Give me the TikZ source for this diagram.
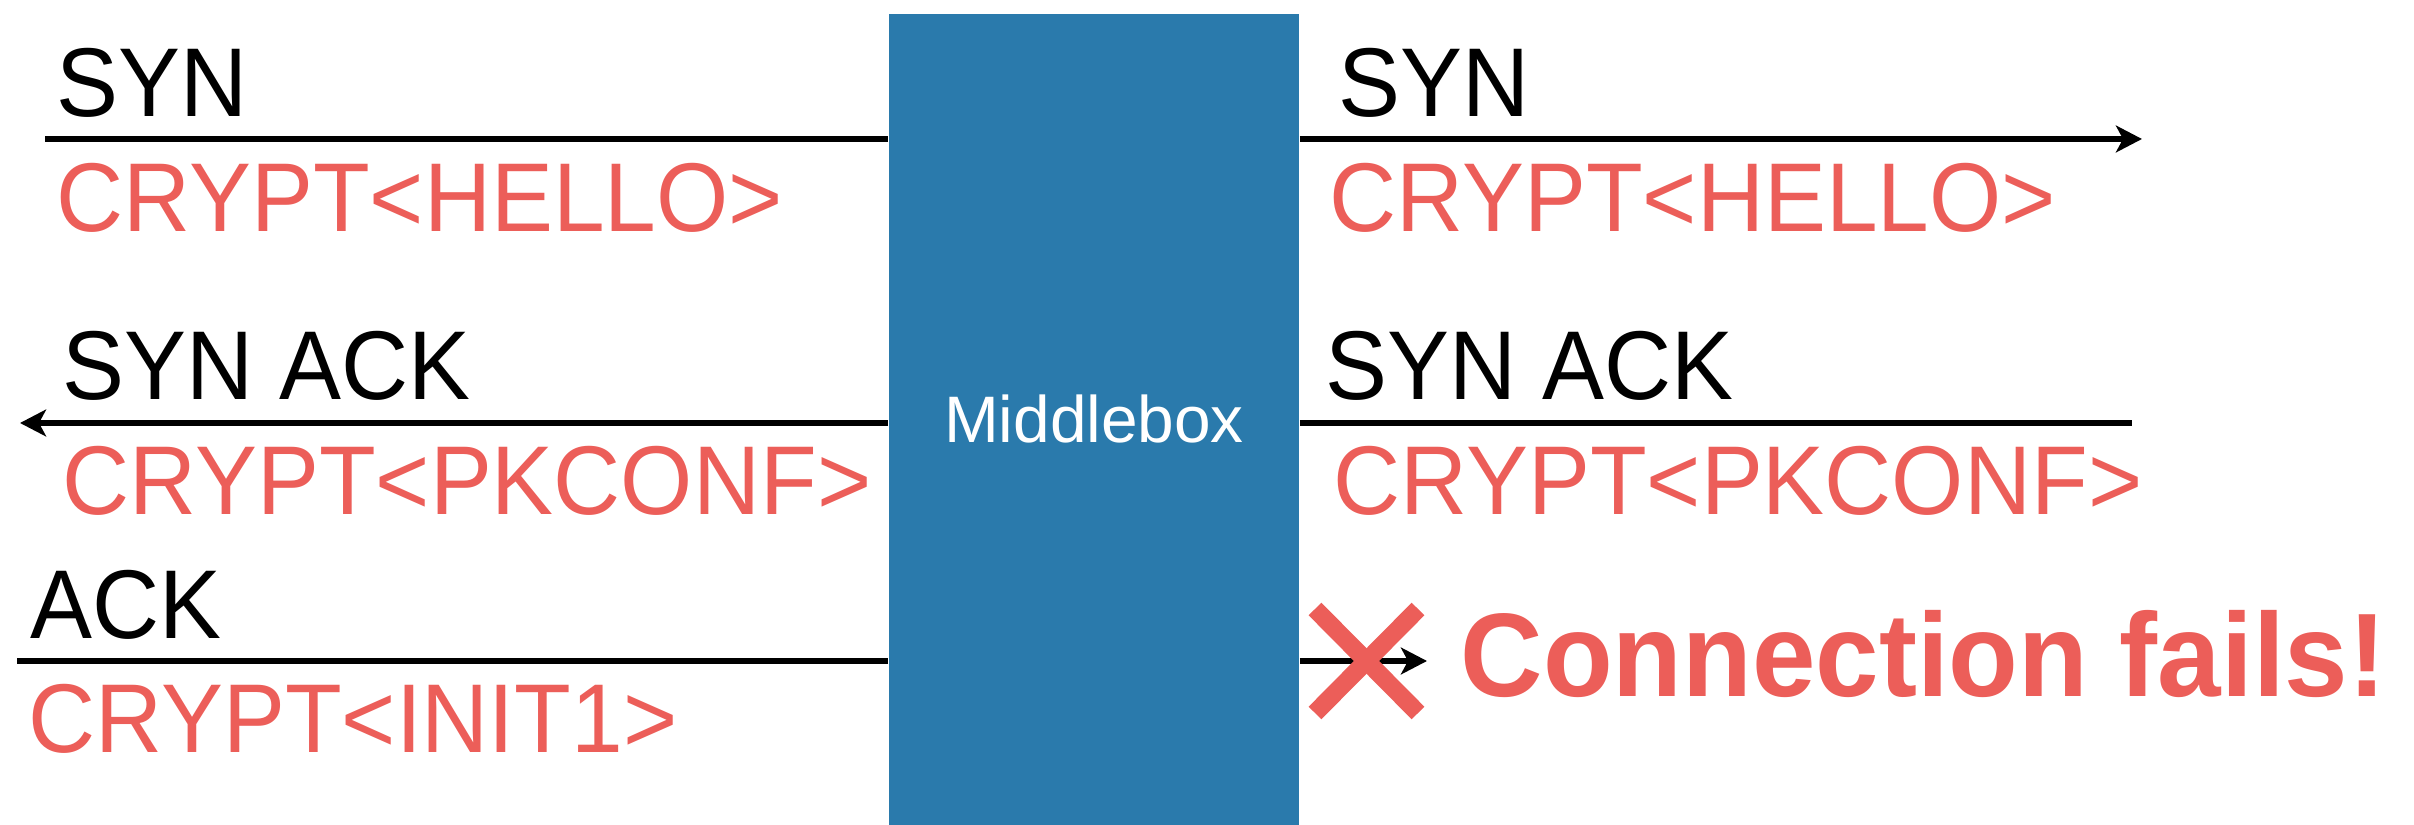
\documentclass[tikz,border=0pt]{standalone}
\usepackage{fontspec}
\setmainfont{Liberation Sans}
\newfontfamily\msgfont[FakeStretch=0.95]{Liberation Sans}
\newfontfamily\notefont[FakeStretch=0.96]{Liberation Sans}
\usetikzlibrary{arrows.meta}
\definecolor{boxblue}{RGB}{42,122,172}
\definecolor{alertred}{RGB}{236,94,89}
\tikzset{
  msg/.style={line width=1.55pt, black},
  sendtip/.style={-{Stealth[length=7.4pt,width=7.6pt,inset=2pt]}},
  hdr/.style={anchor=base west, inner sep=0pt, text=black,
    font=\msgfont\fontsize{27.8pt}{30pt}\selectfont},
  pay/.style={hdr, text=alertred},
  mbox/.style={fill=boxblue, draw=none, inner sep=0pt,
    minimum width=4.1cm, minimum height=8.11cm, text=white,
    font=\fontsize{18.7pt}{20pt}\selectfont},
  failmark/.style={alertred, line width=5.1pt, line cap=butt},
  failnote/.style={anchor=base west, inner sep=0pt, text=alertred,
    font=\notefont\bfseries\fontsize{33.8pt}{36pt}\selectfont},
}
\begin{document}
\begin{tikzpicture}[x=0.01cm, y=-0.01cm]
\useasboundingbox (0,0) rectangle (2414,825);

% the middlebox
\node[mbox] (mb) at (1094,419.5) {\raisebox{-1.2pt}{Middlebox}};

% free ends of the message lines
\coordinate (a1) at (45,139);
\coordinate (b1) at (2142,139);
\coordinate (a2) at (20,423);
\coordinate (b2) at (2132,423);
\coordinate (a3) at (17,661);
\coordinate (b3) at (1427,661);

% SYN
\draw[msg] (a1) -- (a1 -| mb.west);
\draw[msg, sendtip] (b1 -| mb.east) -- (b1);
\node[hdr] (synL) at (56,117) {SYN};
\node[pay] (helloL) at (56,232) {CRYPT<HELLO>};
\node[hdr] (synR) at (1338,117) {SYN};
\node[pay] (helloR) at (1329,232) {CRYPT<HELLO>};

% SYN ACK
\draw[msg, sendtip] (a2 -| mb.west) -- (a2);
\draw[msg] (b2 -| mb.east) -- (b2);
\node[hdr] (synackL) at (62,400) {SYN ACK};
\node[pay] (pkL) at (62,515) {CRYPT<PKCONF>};
\node[hdr] (synackR) at (1325,400) {SYN ACK};
\node[pay] (pkR) at (1333,515) {CRYPT<PKCONF>};

% ACK
\draw[msg] (a3) -- (a3 -| mb.west);
\draw[msg, sendtip] (b3 -| mb.east) -- (b3);
\node[hdr] (ackL) at (30,639) {ACK};
\node[pay] (initL) at (28,753) {CRYPT<INIT1>};

% failure mark over the last forwarded ACK
\draw[failmark] (1315,609) -- (1418,713);
\draw[failmark] (1418,609) -- (1315,713);
\node[failnote] (fail) at (1460,697) {Connection fails!};
\end{tikzpicture}
\end{document}
